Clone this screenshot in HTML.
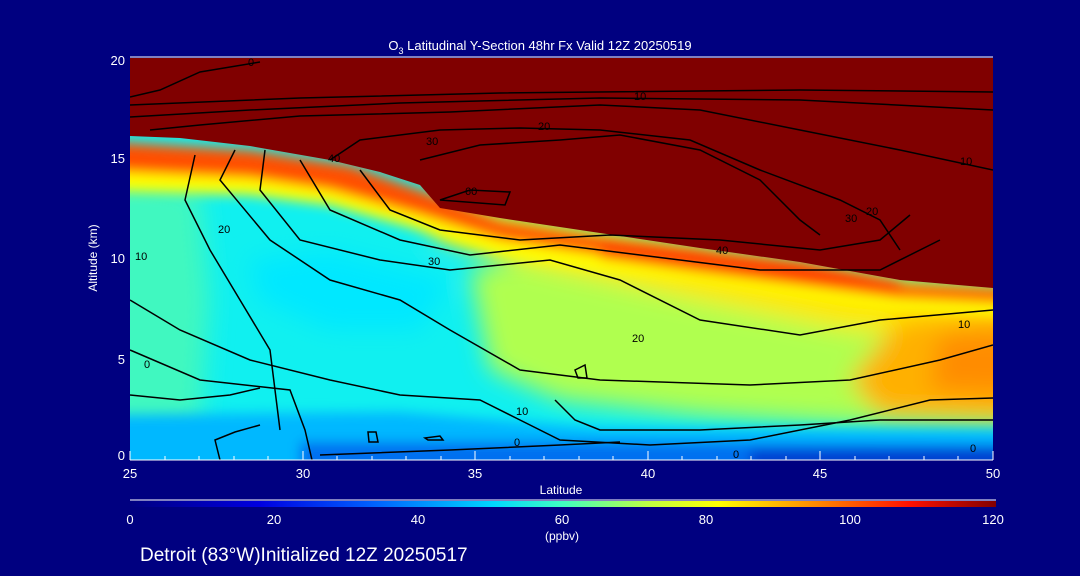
<!DOCTYPE html>
<html><head><style>
html,body{margin:0;padding:0;background:#000080;}
svg{display:block;font-family:"Liberation Sans",sans-serif;}
</style></head><body>
<svg width="1080" height="576" viewBox="0 0 1080 576">
<defs>
<filter id="b" x="-20%" y="-20%" width="140%" height="140%"><feGaussianBlur stdDeviation="12"/></filter>
<filter id="b2" x="-20%" y="-20%" width="140%" height="140%"><feGaussianBlur stdDeviation="6"/></filter>
<clipPath id="c"><rect x="130" y="58" width="863" height="402"/></clipPath>
<linearGradient id="cb" x1="0" x2="1">
<stop offset="0" stop-color="#000080"/><stop offset="0.15" stop-color="#0000e0"/>
<stop offset="0.28" stop-color="#0060ff"/><stop offset="0.42" stop-color="#00d8ff"/>
<stop offset="0.5" stop-color="#40ffc0"/><stop offset="0.6" stop-color="#c0ff40"/>
<stop offset="0.68" stop-color="#ffff00"/><stop offset="0.8" stop-color="#ff8000"/>
<stop offset="0.9" stop-color="#ff1000"/><stop offset="1" stop-color="#800000"/>
</linearGradient>
</defs>
<rect width="1080" height="576" fill="#000080"/>
<g clip-path="url(#c)">
<rect x="130" y="58" width="863" height="402" fill="#10f0f0"/>
<g filter="url(#b)">
<path d="M80 170 L200 190 L210 300 L200 440 L80 440Z" fill="#40f8c0"/>
<path d="M250 260 L330 250 L450 280 L420 330 L330 330 L260 300Z" fill="#00e8ff"/>
<path d="M470 270 L560 250 L700 260 L860 280 L1040 290 L1040 430 L860 425 L700 415 L560 400 L490 370Z" fill="#b0ff50"/>
<path d="M420 200 L600 230 L900 280 L1040 290 L1040 340 L850 330 L700 300 L560 270 L440 240Z" fill="#ffe800"/>
<path d="M900 320 L1040 310 L1040 420 L880 415 L850 380Z" fill="#ffb000"/>
<path d="M940 335 L1040 330 L1040 395 L930 390Z" fill="#ff8c00"/>
</g>
<g filter="url(#b2)">
<path d="M80 415 L400 412 L600 428 L1040 430 L1040 480 L80 480Z" fill="#00b8ff"/>
<path d="M300 442 L600 442 L1040 445 L1040 480 L300 480Z" fill="#0070f0"/>
<path d="M750 450 L1040 448 L1040 480 L750 480Z" fill="#0040d0"/>
<path d="M80 150 L250 160 L350 175 L420 200 L500 230 L600 245 L700 255 L800 275 L900 290 L1040 300 L1040 318 L900 308 L800 295 L700 280 L600 270 L500 255 L420 230 L330 205 L250 195 L80 190Z" fill="#ffff00"/>
<path d="M80 140 L250 150 L350 165 L420 190 L500 222 L600 238 L700 250 L800 268 L900 285 L1040 292 L1040 305 L900 298 L800 282 L700 268 L600 255 L500 240 L420 215 L330 190 L250 178 L80 170Z" fill="#ff5000"/>
<path d="M600 240 L800 262 L900 282 L900 298 L800 285 L700 272 L600 258Z" fill="#ff4000"/>
</g>
<path d="M130 58 L993 58 L993 288 L900 280 L800 262 L700 248 L600 233 L500 218 L440 208 L420 185 L380 172 L330 160 L250 146 L180 138 L130 136Z" fill="#800000"/>
<g fill="none" stroke="#000" stroke-width="1.5">
<path d="M130 97 L160 90 L200 72 L260 62"/>
<path d="M130 105 L300 98 L500 93 L800 90 L993 92"/>
<path d="M130 117 L250 110 L400 103 L600 98 L800 100 L993 110"/>
<path d="M150 130 L200 125 L300 116 L450 112 L600 105 L700 110 L800 130 L900 150 L993 170"/>
<path d="M195 155 L185 200 L210 250 L240 300 L270 350 L280 430"/>
<path d="M235 150 L220 180 L270 240 L330 280 L400 300 L450 330 L520 370 L600 380 L750 385 L850 380 L940 360 L993 345"/>
<path d="M265 150 L260 190 L300 240 L380 260 L450 270 L550 260 L620 280 L700 320 L800 335 L880 320 L993 310"/>
<path d="M300 160 L330 210 L400 240 L470 255 L560 245 L640 255 L760 270 L880 270 L940 240"/>
<path d="M360 170 L390 210 L440 230 L520 240 L610 235 L720 240 L820 250 L880 240 L910 215"/>
<path d="M330 160 L360 140 L440 130 L520 128 L600 130 L690 140 L760 170 L840 200 L880 220 L900 250"/>
<path d="M420 160 L480 145 L560 140 L620 135 L700 150 L760 180 L800 220 L820 235"/>
<path d="M440 200 L470 190 L510 192 L505 205Z"/>
<path d="M130 300 L180 330 L250 360 L330 380 L400 395 L480 400 L520 420 L560 440 L650 445 L750 440 L850 420 L930 400 L993 398"/>
<path d="M130 350 L200 380 L290 390 L305 430 L312 460"/>
<path d="M130 395 L180 400 L230 395 L260 388"/>
<path d="M220 460 L215 440 L235 432 L260 425"/>
<path d="M555 400 L575 420 L600 430 L700 430 L800 425 L880 420 L993 420"/>
<path d="M575 370 L585 365 L587 378 L578 378Z"/>
<path d="M368 432 L376 432 L378 442 L369 442Z"/>
<path d="M425 438 L440 436 L443 440 L428 440Z"/>
<path d="M320 455 L450 450 L560 445 L620 442"/>
</g>
<g font-size="11" fill="#000">
<text x="248" y="66">0</text><text x="634" y="100">10</text><text x="538" y="130">20</text>
<text x="426" y="145">30</text><text x="328" y="162">40</text><text x="465" y="195">60</text>
<text x="716" y="254">40</text><text x="845" y="222">30</text><text x="866" y="215">20</text>
<text x="960" y="165">10</text><text x="428" y="265">30</text><text x="218" y="233">20</text>
<text x="135" y="260">10</text><text x="632" y="342">20</text><text x="958" y="328">10</text>
<text x="144" y="368">0</text><text x="516" y="415">10</text><text x="514" y="446">0</text>
<text x="733" y="458">0</text><text x="970" y="452">0</text>
</g>
</g>
<line x1="130" y1="57" x2="993" y2="57" stroke="#fff"/>
<line x1="130" y1="460" x2="993" y2="460" stroke="#fff"/>
<g stroke="#fff">
<path d="M130 460V451M303 460V451M475 460V451M648 460V451M820 460V451M993 460V451"/>
<path d="M165 460V456M199 460V456M234 460V456M268 460V456M337 460V456M372 460V456M406 460V456M441 460V456M510 460V456M544 460V456M579 460V456M613 460V456M682 460V456M717 460V456M751 460V456M786 460V456M855 460V456M889 460V456M924 460V456M958 460V456"/>
</g>
<g fill="#fff" font-size="13">
<text x="540" y="50" text-anchor="middle">O<tspan font-size="9" dy="4">3</tspan><tspan dy="-4"> Latitudinal Y-Section 48hr  Fx Valid 12Z 20250519</tspan></text>
<text x="125" y="65" text-anchor="end">20</text>
<text x="125" y="163" text-anchor="end">15</text>
<text x="125" y="263" text-anchor="end">10</text>
<text x="125" y="364" text-anchor="end">5</text>
<text x="125" y="460" text-anchor="end">0</text>
<text x="130" y="478" text-anchor="middle">25</text>
<text x="303" y="478" text-anchor="middle">30</text>
<text x="475" y="478" text-anchor="middle">35</text>
<text x="648" y="478" text-anchor="middle">40</text>
<text x="820" y="478" text-anchor="middle">45</text>
<text x="993" y="478" text-anchor="middle">50</text>
<text x="561" y="494" text-anchor="middle" font-size="12">Latitude</text>
<text transform="translate(97 258) rotate(-90)" text-anchor="middle" font-size="12">Altitude (km)</text>
<text x="130" y="524" text-anchor="middle">0</text>
<text x="274" y="524" text-anchor="middle">20</text>
<text x="418" y="524" text-anchor="middle">40</text>
<text x="562" y="524" text-anchor="middle">60</text>
<text x="706" y="524" text-anchor="middle">80</text>
<text x="850" y="524" text-anchor="middle">100</text>
<text x="993" y="524" text-anchor="middle">120</text>
<text x="562" y="540" text-anchor="middle" font-size="12">(ppbv)</text>
<text x="140" y="561" font-size="19">Detroit (83°W)Initialized 12Z 20250517</text>
</g>
<line x1="130" y1="500" x2="996" y2="500" stroke="#fff"/>
<rect x="130" y="501" width="866" height="6" fill="url(#cb)"/>
</svg>
</body></html>
